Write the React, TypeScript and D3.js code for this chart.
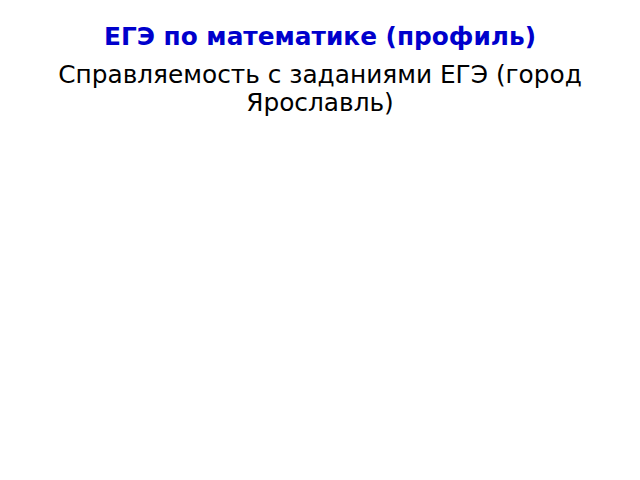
import { useEffect, useRef } from 'react'
import * as d3 from 'd3'

// the slide carries no plotted series, only its headings
const titleLines = ['ЕГЭ по математике (профиль)']
const subtitleLines = ['Справляемость с заданиями ЕГЭ (город', 'Ярославль)']

export default function App() {
    const svgRef = useRef<SVGSVGElement>(null);

    useEffect(() => {
        if (!svgRef.current) return;

        const width = 640;
        const height = 480;
        const svg = d3.select(svgRef.current);
        svg.attr('width', width).attr('height', height);
        svg.selectAll('*').remove();

        svg.append('rect')
            .attr('width', width)
            .attr('height', height)
            .attr('fill', '#ffffff');

        svg.selectAll('.title')
            .data(titleLines)
            .enter()
            .append('text')
            .attr('class', 'title')
            .attr('x', width / 2)
            .attr('y', (d, i) => 45 + i * 28)
            .attr('text-anchor', 'middle')
            .attr('font-family', 'DejaVu Sans')
            .attr('font-weight', 'bold')
            .attr('font-size', '24.8px')
            .attr('fill', '#0000cc')
            .text(d => d);

        svg.selectAll('.subtitle')
            .data(subtitleLines)
            .enter()
            .append('text')
            .attr('class', 'subtitle')
            .attr('x', width / 2)
            .attr('y', (d, i) => 83 + i * 28)
            .attr('text-anchor', 'middle')
            .attr('font-family', 'DejaVu Sans')
            .attr('font-size', '24.8px')
            .attr('fill', '#000000')
            .text(d => d);
    }, []);

    return <svg ref={svgRef} style={{ position: 'absolute', left: 0, top: 0 }} />;
}
